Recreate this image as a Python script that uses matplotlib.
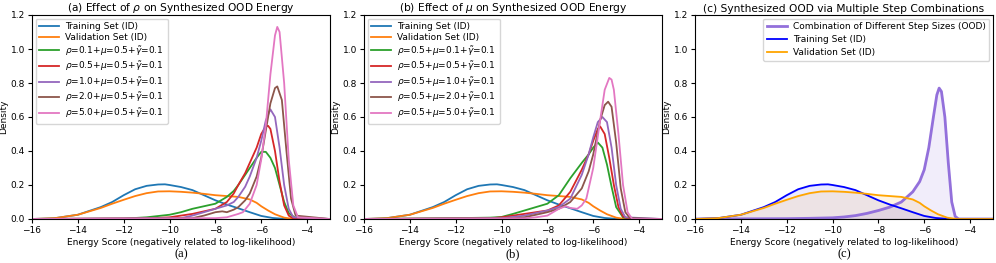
import numpy as np
import matplotlib.pyplot as plt

# ---- data (energy score x, density y) ----
train_x = [-16, -15, -14, -13, -12.5, -12, -11.5, -11, -10.5, -10.2, -10, -9.5, -9, -8.5, -8, -7.5, -7, -6.5, -6, -5.5, -5, -4.5, -3]
train_y = [0.0, 0.005, 0.025, 0.07, 0.1, 0.14, 0.175, 0.195, 0.203, 0.204, 0.2, 0.188, 0.17, 0.14, 0.11, 0.085, 0.063, 0.04, 0.018, 0.006, 0.001, 0.0, 0.0]

val_x = [-16, -15, -14, -13, -12.5, -12, -11.5, -11, -10.5, -10, -9.5, -9, -8.5, -8, -7.5, -7, -6.5, -6.2, -6, -5.7, -5.4, -5, -4.6, -3]
val_y = [0.0, 0.005, 0.025, 0.065, 0.09, 0.113, 0.135, 0.152, 0.162, 0.163, 0.16, 0.155, 0.148, 0.14, 0.135, 0.13, 0.115, 0.095, 0.075, 0.05, 0.028, 0.008, 0.0, 0.0]

# panel (a): effect of rho
rho_labels = [r'$\rho$=0.1+$\mu$=0.5+$\tilde{\gamma}$=0.1', r'$\rho$=0.5+$\mu$=0.5+$\tilde{\gamma}$=0.1',
              r'$\rho$=1.0+$\mu$=0.5+$\tilde{\gamma}$=0.1', r'$\rho$=2.0+$\mu$=0.5+$\tilde{\gamma}$=0.1',
              r'$\rho$=5.0+$\mu$=0.5+$\tilde{\gamma}$=0.1']
rho_x = [
    [-16, -12, -11, -10, -9.5, -9, -8.5, -8, -7.5, -7.2, -7, -6.7, -6.5, -6.2, -6, -5.8, -5.6, -5.4, -5.2, -5, -4.8, -4.5, -3],
    [-16, -11, -10, -9, -8.5, -8, -7.5, -7.2, -7, -6.7, -6.5, -6.2, -6, -5.8, -5.7, -5.6, -5.4, -5.2, -5, -4.8, -4.6, -3],
    [-16, -9.5, -9, -8.5, -8, -7.5, -7.2, -7, -6.7, -6.5, -6.2, -6, -5.8, -5.6, -5.4, -5.2, -5, -4.8, -4.6, -3],
    [-16, -9, -8.5, -8, -7.7, -7.5, -7.2, -7, -6.7, -6.5, -6.2, -6, -5.8, -5.6, -5.4, -5.3, -5.1, -4.9, -4.7, -4.5, -3],
    [-16, -8, -7.5, -7, -6.8, -6.5, -6.2, -6, -5.8, -5.6, -5.4, -5.3, -5.2, -5.0, -4.8, -4.6, -4.4, -3],
]
rho_y = [
    [0.0, 0.002, 0.01, 0.025, 0.04, 0.06, 0.075, 0.09, 0.13, 0.165, 0.2, 0.26, 0.3, 0.36, 0.395, 0.395, 0.36, 0.3, 0.2, 0.1, 0.035, 0.005, 0.0],
    [0.0, 0.003, 0.01, 0.03, 0.045, 0.06, 0.1, 0.15, 0.2, 0.27, 0.33, 0.42, 0.5, 0.545, 0.548, 0.53, 0.4, 0.22, 0.08, 0.02, 0.003, 0.0],
    [0.0, 0.005, 0.02, 0.04, 0.06, 0.08, 0.1, 0.13, 0.19, 0.25, 0.36, 0.46, 0.58, 0.645, 0.6, 0.42, 0.2, 0.06, 0.01, 0.0],
    [0.0, 0.005, 0.02, 0.04, 0.045, 0.04, 0.055, 0.07, 0.11, 0.15, 0.25, 0.36, 0.52, 0.68, 0.77, 0.78, 0.7, 0.4, 0.12, 0.02, 0.0],
    [0.0, 0.005, 0.01, 0.03, 0.04, 0.09, 0.2, 0.35, 0.55, 0.85, 1.08, 1.13, 1.1, 0.8, 0.35, 0.08, 0.01, 0.0],
]

# panel (b): effect of mu
mu_labels = [r'$\rho$=0.5+$\mu$=0.1+$\tilde{\gamma}$=0.1', r'$\rho$=0.5+$\mu$=0.5+$\tilde{\gamma}$=0.1',
             r'$\rho$=0.5+$\mu$=1.0+$\tilde{\gamma}$=0.1', r'$\rho$=0.5+$\mu$=2.0+$\tilde{\gamma}$=0.1',
             r'$\rho$=0.5+$\mu$=5.0+$\tilde{\gamma}$=0.1']
mu_x = [
    [-16, -12, -10.5, -10, -9.5, -9, -8.5, -8, -7.5, -7, -6.5, -6.2, -6, -5.8, -5.6, -5.4, -5.2, -5, -4.7, -4.4, -3],
    [-16, -10.5, -10, -9, -8.5, -8, -7.5, -7, -6.5, -6.2, -6, -5.8, -5.7, -5.5, -5.3, -5.1, -4.9, -4.7, -4.4, -3],
    [-16, -10, -9, -8.5, -8, -7.5, -7, -6.5, -6.2, -6, -5.8, -5.6, -5.4, -5.2, -5, -4.8, -4.6, -3],
    [-16, -9.5, -9, -8.5, -8, -7.5, -7, -6.5, -6.2, -6, -5.7, -5.5, -5.35, -5.2, -5.0, -4.8, -4.6, -4.4, -3],
    [-16, -9, -8.5, -8, -7.5, -7.2, -7, -6.7, -6.5, -6.3, -6, -5.7, -5.5, -5.3, -5.2, -5.1, -4.9, -4.7, -4.5, -4.3, -3],
]
mu_y = [
    [0.0, 0.005, 0.008, 0.012, 0.03, 0.05, 0.07, 0.09, 0.14, 0.24, 0.33, 0.38, 0.42, 0.45, 0.42, 0.32, 0.19, 0.07, 0.01, 0.0, 0.0],
    [0.0, 0.004, 0.01, 0.03, 0.04, 0.05, 0.08, 0.16, 0.29, 0.38, 0.46, 0.53, 0.545, 0.5, 0.36, 0.2, 0.07, 0.015, 0.0, 0.0],
    [0.0, 0.004, 0.02, 0.035, 0.05, 0.07, 0.12, 0.26, 0.38, 0.48, 0.57, 0.6, 0.57, 0.42, 0.2, 0.06, 0.01, 0.0],
    [0.0, 0.004, 0.01, 0.025, 0.04, 0.06, 0.1, 0.18, 0.28, 0.38, 0.58, 0.67, 0.69, 0.66, 0.45, 0.18, 0.04, 0.005, 0.0],
    [0.0, 0.004, 0.01, 0.02, 0.06, 0.075, 0.065, 0.06, 0.08, 0.12, 0.3, 0.58, 0.76, 0.83, 0.82, 0.76, 0.5, 0.2, 0.04, 0.0, 0.0],
]

# panel (c): combination of step sizes
comb_x = [-16, -12, -11, -10, -9.5, -9, -8.5, -8, -7.5, -7, -6.5, -6.2, -6, -5.8, -5.6, -5.45, -5.35, -5.25, -5.1, -4.95, -4.8, -4.65, -4.5, -3]
comb_y = [0.0, 0.002, 0.004, 0.007, 0.012, 0.02, 0.033, 0.05, 0.07, 0.1, 0.16, 0.22, 0.29, 0.42, 0.6, 0.73, 0.77, 0.75, 0.6, 0.33, 0.1, 0.015, 0.0, 0.0]

series_colors = ['tab:green', 'tab:red', 'tab:purple', 'tab:brown', 'tab:pink']
xticks = [-16, -14, -12, -10, -8, -6, -4]
xlab = 'Energy Score (negatively related to log-likelihood)'

fig = plt.figure(figsize=(9.96, 2.63), dpi=100)
W, H = 996.0, 263.0
lefts = [32, 364, 695]
axs = [fig.add_axes([l / W, 1 - 219 / H, 298 / W, 204 / H]) for l in lefts]


def style(ax, title, cap):
    ax.set_xlim(-16, -3)
    ax.set_ylim(0, 1.2)
    ax.set_xticks(xticks)
    ax.set_xticklabels(['\u2212%d' % abs(t) for t in xticks])
    ax.set_yticks(np.arange(0, 1.21, 0.2))
    ax.tick_params(labelsize=6.5, length=3, pad=2)
    ax.set_ylabel('Density', fontsize=6.5, labelpad=2)
    ax.set_xlabel(xlab, fontsize=6.5, labelpad=2)
    ax.set_title(title, fontsize=7.7, pad=2.5)
    ax.text(0.5, -0.145, cap, transform=ax.transAxes, ha='center', va='top',
            fontsize=9, family='Liberation Serif')


leg_kw = dict(fontsize=6.5, handlelength=2.2, labelspacing=0.2, borderpad=0.4,
              handletextpad=0.7, borderaxespad=0.4)

for ax, sx, sy, labs, title, cap in [
        (axs[0], rho_x, rho_y, rho_labels, r'(a) Effect of $\rho$ on Synthesized OOD Energy', '(a)'),
        (axs[1], mu_x, mu_y, mu_labels, r'(b) Effect of $\mu$ on Synthesized OOD Energy', '(b)')]:
    ax.plot(train_x, train_y, color='tab:blue', lw=1.3, label='Training Set (ID)')
    ax.plot(val_x, val_y, color='tab:orange', lw=1.3, label='Validation Set (ID)')
    for x, y, c, l in zip(sx, sy, series_colors, labs):
        ax.plot(x, y, color=c, lw=1.3, label=l)
    style(ax, title, cap)
    ax.legend(loc='upper left', **leg_kw)

ax = axs[2]
ax.plot(comb_x, comb_y, color='mediumpurple', lw=2.0, label='Combination of Different Step Sizes (OOD)')
ax.fill_between(comb_x, comb_y, color='mediumpurple', alpha=0.12)
ax.plot(train_x, train_y, color='blue', lw=1.3, label='Training Set (ID)')
ax.fill_between(train_x, train_y, color='blue', alpha=0.08)
ax.plot(val_x, val_y, color='orange', lw=1.3, label='Validation Set (ID)')
ax.fill_between(val_x, val_y, color='orange', alpha=0.1)
style(ax, '(c) Synthesized OOD via Multiple Step Combinations', '(c)')
ax.legend(loc='upper right', fontsize=6.5, handlelength=2.2, labelspacing=0.45,
          borderpad=0.4, handletextpad=0.7, borderaxespad=0.4)

fig.savefig('out.png', dpi=100)
